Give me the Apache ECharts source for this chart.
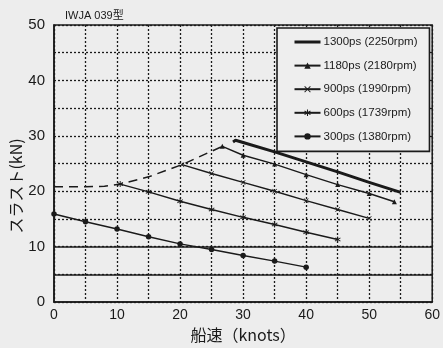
<!DOCTYPE html>
<html><head><meta charset="utf-8">
<script src="https://cdn.jsdelivr.net/npm/echarts@6/dist/echarts.min.js"></script>
<style>html,body{margin:0;padding:0;background:#ededed}#c{width:443px;height:348px}</style>
</head><body><div id="c"></div>
<script>
const title = 'IWJA 039型';
const xName = '船速（knots）';
const yName = 'スラスト(kN)';
const seriesNames = ['1300ps (2250rpm)', '1180ps (2180rpm)', '900ps (1990rpm)', '600ps (1739rpm)', '300ps (1380rpm)'];
const s1300 = [[28.4, 28.9], [28.8, 29.2], [30, 28.8], [35, 27.1], [40, 25.3], [45, 23.5], [50, 21.6], [55, 19.8]];
const s1180 = [[26.7, 28.1], [30, 26.5], [35, 24.9], [40, 23.0], [45, 21.2], [50, 19.6], [54, 18.1]];
const s900 = [[20.3, 24.8], [25, 23.2], [30, 21.6], [35, 20.0], [40, 18.3], [45, 16.7], [50, 15.1]];
const s600 = [[10.5, 21.3], [15, 19.9], [20, 18.2], [25, 16.7], [30, 15.3], [35, 14.0], [40, 12.6], [45, 11.3]];
const s300 = [[0, 15.9], [5, 14.5], [10, 13.2], [15, 11.8], [20, 10.5], [25, 9.5], [30, 8.4], [35, 7.4], [40, 6.3]];
const envelope = [[0, 20.8], [5, 20.8], [8, 20.9], [10.5, 21.3], [15, 22.6], [20.3, 24.8], [26.7, 28.1]];
const solidRefLines = [5, 10];
const xTicks = [0, 10, 20, 30, 40, 50, 60];
const yTicks = [0, 10, 20, 30, 40, 50];

const ink = '#1a1a1a';
const crossPath = 'path://M0,1L1,0L5,4L9,0L10,1L6,5L10,9L9,10L5,6L1,10L0,9L4,5Z';
const starPath = 'path://M4.2,0H5.8V3.6L9.2,1.6L10,3L6.6,5L10,7L9.2,8.4L5.8,6.4V10H4.2V6.4L0.8,8.4L0,7L3.4,5L0,3L0.8,1.6L4.2,3.6Z';

function lineSeries(name, data, symbol, size, width) {
  return {
    name, type: 'line', data, symbol, symbolSize: size, showSymbol: symbol !== 'none',
    lineStyle: { color: ink, width }, itemStyle: { color: ink }, z: 3
  };
}

const chart = echarts.init(document.getElementById('c'), null, { renderer: 'canvas' });
chart.setOption({
  backgroundColor: '#ededed',
  animation: false,
  textStyle: { fontFamily: 'Liberation Sans, Arial, sans-serif' },
  grid: { left: 54, right: 10, top: 25, bottom: 38, show: true, borderColor: ink, borderWidth: 1.5, backgroundColor: 'transparent' },
  xAxis: {
    type: 'value', min: 0, max: 60, interval: 5,
    name: xName, nameLocation: 'middle', nameGap: 22,
    nameTextStyle: { fontSize: 16, color: ink, fontFamily: 'Noto Sans CJK JP' },
    axisLine: { show: true, lineStyle: { color: ink, width: 1.5 } },
    axisTick: { show: false },
    axisLabel: { fontSize: 14, color: ink, margin: 6, formatter: v => xTicks.includes(v) ? String(v) : '' },
    splitLine: { show: true, lineStyle: { color: ink, type: [2, 2], width: 1.3 } }
  },
  yAxis: {
    type: 'value', min: 0, max: 50, interval: 5,
    axisLine: { show: true, lineStyle: { color: ink, width: 1.5 } },
    axisTick: { show: false },
    axisLabel: { fontSize: 15, color: ink, margin: 9, formatter: v => yTicks.includes(v) ? String(v) : '' },
    splitLine: { show: true, lineStyle: { color: ink, type: [2, 2], width: 1.3 } }
  },
  legend: {
    data: seriesNames.map((n, i) => i === 0 ? { name: n, itemStyle: { opacity: 0 }, lineStyle: { width: 3, color: ink } } : n),
    left: 277, top: 28, orient: 'vertical',
    padding: [8, 12, 9, 16], itemGap: 11.6, itemWidth: 26, itemHeight: 8,
    backgroundColor: '#eeeeee', borderColor: ink, borderWidth: 1.6,
    textStyle: { fontSize: 11.5, color: ink, fontFamily: 'Liberation Sans, Arial, sans-serif', padding: [0, 0, 0, -2] }
  },
  graphic: [
    { type: 'text', left: 65, top: 10, style: { text: title, fontSize: 11, fill: ink, fontFamily: 'Liberation Sans, Noto Sans CJK JP, sans-serif' } },
    { type: 'text', x: 16, y: 186, rotation: Math.PI / 2, style: { text: yName, fontSize: 16, fill: ink, align: 'center', verticalAlign: 'middle', fontFamily: 'Noto Sans CJK JP' } }
  ],
  series: [
    lineSeries(seriesNames[0], s1300, 'none', 0, 3),
    lineSeries(seriesNames[1], s1180, 'triangle', 5, 1.4),
    lineSeries(seriesNames[2], s900, crossPath, 5, 1.4),
    lineSeries(seriesNames[3], s600, starPath, 6, 1.4),
    lineSeries(seriesNames[4], s300, 'circle', 5.5, 1.4),
    {
      name: 'envelope', type: 'line', data: envelope, symbol: 'none',
      lineStyle: { color: ink, width: 1.5, type: [9, 6] }, z: 2,
      markLine: {
        silent: true, symbol: 'none', label: { show: false },
        lineStyle: { color: ink, width: 1.5, type: 'solid' },
        data: solidRefLines.map(v => ({ yAxis: v }))
      }
    }
  ]
});
</script></body></html>
